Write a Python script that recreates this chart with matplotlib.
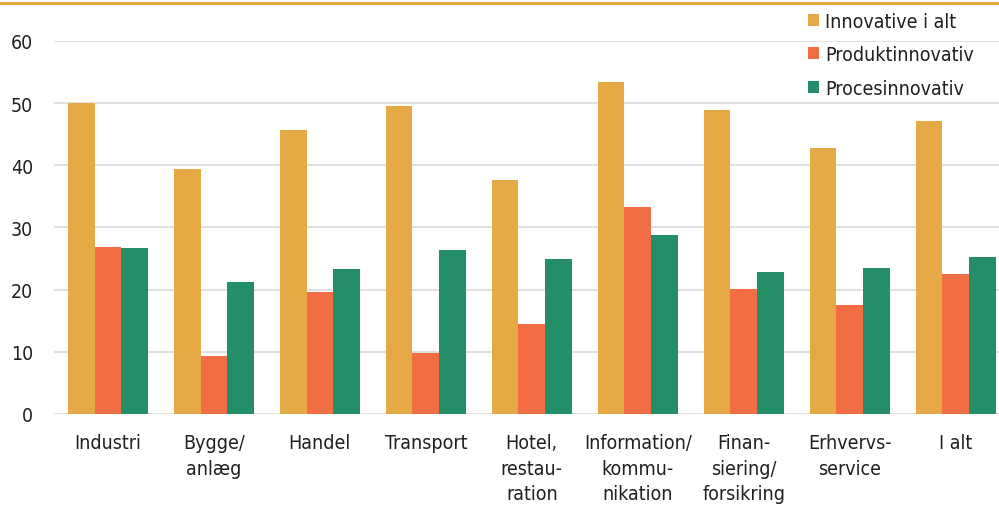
import matplotlib
matplotlib.use('Agg')
import matplotlib.pyplot as plt
import numpy as np
from matplotlib.lines import Line2D
from matplotlib.patches import Patch

plt.rcParams['font.family'] = ['DejaVu Sans']
plt.rcParams['font.stretch'] = 'condensed'

# Data
categories = ['Industri', 'Bygge/\nanlæg', 'Handel', 'Transport', 'Hotel,\nrestau-\nration',
              'Information/\nkommu-\nnikation', 'Finan-\nsiering/\nforsikring', 'Erhvervs-\nservice', 'I alt']
innovative_i_alt = [50.1, 39.4, 45.6, 49.5, 37.6, 53.4, 48.9, 42.8, 47.1]
produktinnovativ = [26.8, 9.3, 19.6, 9.8, 14.5, 33.3, 20.1, 17.5, 22.5]
procesinnovativ = [26.7, 21.2, 23.3, 26.4, 24.9, 28.8, 22.8, 23.5, 25.2]
series_names = ['Innovative i alt', 'Produktinnovativ', 'Procesinnovativ']
yticks = [0, 10, 20, 30, 40, 50, 60]

colors = ['#E5A945', '#F26D43', '#238E68']
text_color = '#231F20'

fig = plt.figure(figsize=(9.99, 5.06), dpi=100)
ax = fig.add_axes([0.054, 0.18, 0.946, 0.737])

x = np.arange(len(categories))
w = 0.252
for i, (vals, c) in enumerate(zip([innovative_i_alt, produktinnovativ, procesinnovativ], colors)):
    ax.bar(x + (i - 1) * w, vals, width=w, color=c, zorder=3)

ax.set_xlim(-0.51, 8.41)
ax.set_ylim(0, 60)
ax.set_yticks(yticks)
ax.set_xticks(x)
ax.set_xticklabels(categories, fontsize=14, color=text_color, linespacing=1.42, va='top')
ax.tick_params(axis='y', labelsize=14, colors=text_color, length=0, pad=15)
ax.tick_params(axis='x', length=0, pad=14, colors=text_color)

ax.yaxis.grid(True, color='#DADADA', linewidth=1.2, zorder=0)
for s in ax.spines.values():
    s.set_visible(False)

# top rule
fig.add_artist(Line2D([0, 1], [0.993, 0.993], color='#E5A945', linewidth=2.2, transform=fig.transFigure))

handles = [Patch(facecolor=c, edgecolor='none') for c in colors]
fig.legend(handles, series_names, loc='upper left', bbox_to_anchor=(0.8015, 0.99), frameon=False,
           fontsize=14, handlelength=0.55, handleheight=0.55, handletextpad=0.3, labelspacing=0.74,
           labelcolor=text_color, borderaxespad=0)

fig.savefig('out.png', dpi=100)
